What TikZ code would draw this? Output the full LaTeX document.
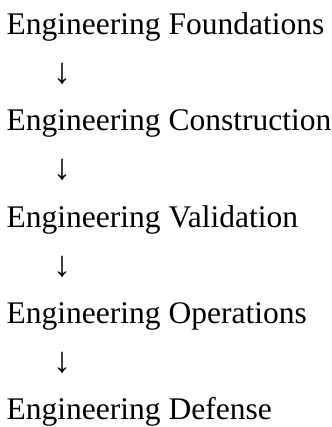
\documentclass[tikz,border=0pt]{standalone}
\usepackage{fontspec}
\setmainfont{Liberation Serif}
\usepackage{tikz}

\tikzset{
    stage/.style={inner sep=0pt, anchor=base west, font=\fontsize{31.5}{36}\selectfont},
    flow/.style={inner sep=0pt, anchor=base, font=\fontsize{36}{40}\selectfont}
}

\begin{document}
\begin{tikzpicture}[x=1pt, y=-1pt]
    \useasboundingbox (0,0) rectangle (331,427);

    \node[stage] (found) at (6.5, 35) {Engineering Foundations};
    \node[flow] (a1) at (62, 84) {↓};
    \node[stage] (constr) at (6.5, 131) {Engineering Construction};
    \node[flow] (a2) at (62, 180) {↓};
    \node[stage] (valid) at (6.5, 227) {Engineering Validation};
    \node[flow] (a3) at (62, 276) {↓};
    \node[stage] (oper) at (6.5, 323) {Engineering Operations};
    \node[flow] (a4) at (62, 372) {↓};
    \node[stage] (defense) at (6.5, 419) {Engineering Defense};
\end{tikzpicture}
\end{document}
